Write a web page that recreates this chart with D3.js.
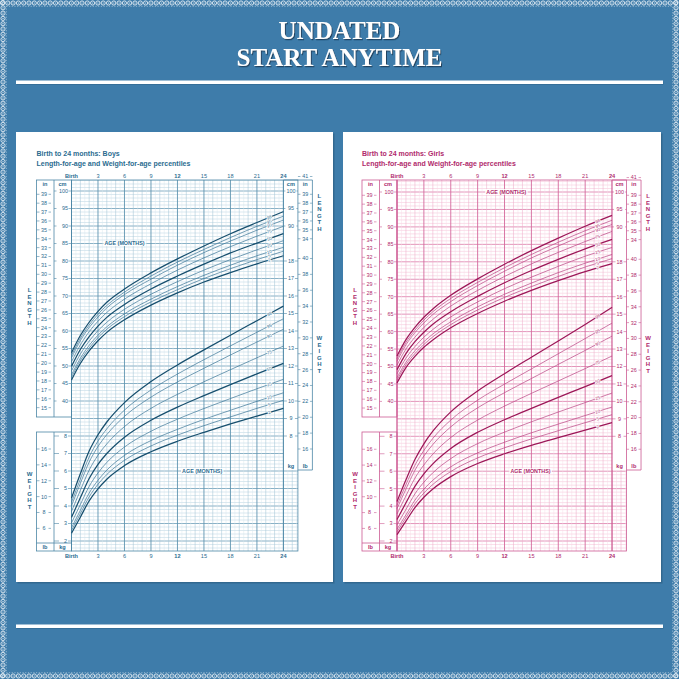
<!DOCTYPE html>
<html><head><meta charset="utf-8">
<script src="https://cdn.jsdelivr.net/npm/d3@7"></script>
<style>html,body{margin:0;padding:0;background:#3e7caa;} svg{display:block}</style>
</head><body>
<svg id="c" width="679" height="679"></svg>
<script>
// ---------- DATA ----------
const months = [0,1,2,3,4,6,9,12,15,18,21,24];
const percentiles = [2,5,10,25,50,75,90,95,98];
const ageTicks = [0,3,6,9,12,15,18,21,24];
const ageTickLabels = ["Birth","3","6","9","12","15","18","21","24"];
const cmTicksLeft = [100,95,90,85,80,75,70,65,60,55,50,45,40];
const inTicksLeft = [39,38,37,36,35,34,33,32,31,30,29,28,27,26,25,24,23,22,21,20,19,18,17,16,15];
const kgTicksLeft = [8,7,6,5,4,3,2];
const lbTicksLeft = [16,14,12,10,8,6];
const cmTicksRight = [100,95,90];
const inTicksRight = [41,39,38,37,36,35,34];
const kgTicksRight = [18,17,16,15,14,13,12,11,10,9,8];
const lbTicksRight = [40,38,36,34,32,30,28,26,24,22,20,18,16];

const boysLength = [
 [46.0,50.7,54.3,57.2,59.6,63.2,67.4,70.9,74.0,76.7,79.2,81.5],
 [46.8,51.5,55.1,58.1,60.5,64.1,68.3,71.8,75.0,77.8,80.4,82.8],
 [47.5,52.2,55.9,58.8,61.2,64.9,69.1,72.7,75.9,78.8,81.5,83.9],
 [48.6,53.4,57.1,60.1,62.5,66.2,70.5,74.1,77.4,80.4,83.2,85.8],
 [49.9,54.7,58.4,61.4,63.9,67.6,72.0,75.7,79.1,82.3,85.1,87.8],
 [51.2,56.0,59.8,62.8,65.3,69.1,73.5,77.4,80.9,84.1,87.1,89.9],
 [52.3,57.2,61.0,64.0,66.6,70.4,74.8,78.8,82.4,85.7,88.8,91.7],
 [53.0,57.9,61.7,64.8,67.3,71.1,75.7,79.7,83.3,86.7,89.9,92.8],
 [53.8,58.7,62.5,65.6,68.2,72.0,76.6,80.6,84.3,87.8,91.0,94.1]
];
const boysWeight = [
 [2.44,3.36,4.29,4.98,5.53,6.31,7.10,7.70,8.21,8.69,9.14,9.58],
 [2.60,3.56,4.52,5.24,5.80,6.61,7.43,8.05,8.59,9.09,9.58,10.04],
 [2.76,3.75,4.74,5.47,6.05,6.89,7.74,8.38,8.95,9.47,9.98,10.47],
 [3.03,4.08,5.12,5.89,6.49,7.37,8.27,8.96,9.57,10.14,10.70,11.24],
 [3.35,4.47,5.57,6.38,7.00,7.93,8.90,9.65,10.31,10.94,11.55,12.15],
 [3.69,4.89,6.05,6.90,7.55,8.54,9.58,10.38,11.10,11.79,12.47,13.14],
 [4.01,5.29,6.51,7.40,8.08,9.12,10.22,11.09,11.87,12.63,13.37,14.10],
 [4.21,5.54,6.80,7.71,8.41,9.48,10.63,11.54,12.36,13.15,13.93,14.70],
 [4.45,5.84,7.14,8.07,8.80,9.91,11.11,12.06,12.92,13.76,14.59,15.42]
];
const girlsLength = [
 [45.3,49.7,52.9,55.5,57.6,61.1,65.2,68.7,71.8,74.6,77.2,79.5],
 [46.1,50.5,53.7,56.3,58.5,62.0,66.2,69.8,72.9,75.8,78.5,80.9],
 [46.8,51.2,54.5,57.1,59.3,62.8,67.1,70.7,73.9,76.9,79.6,82.1],
 [47.9,52.4,55.7,58.4,60.6,64.2,68.5,72.3,75.6,78.7,81.6,84.1],
 [49.1,53.7,57.1,59.8,62.1,65.7,70.1,74.0,77.5,80.7,83.7,86.4],
 [50.4,55.0,58.4,61.2,63.5,67.3,71.8,75.8,79.4,82.7,85.8,88.7],
 [51.5,56.2,59.7,62.5,64.9,68.6,73.2,77.3,81.1,84.5,87.8,90.7],
 [52.2,56.9,60.4,63.3,65.7,69.5,74.1,78.3,82.1,85.6,88.9,91.9],
 [53.0,57.7,61.2,64.1,66.5,70.4,75.1,79.3,83.2,86.8,90.2,93.3]
];
const girlsWeight = [
 [2.37,3.14,3.91,4.51,4.98,5.69,6.44,7.00,7.48,7.92,8.35,8.78],
 [2.53,3.33,4.13,4.75,5.24,5.98,6.76,7.34,7.85,8.32,8.78,9.24],
 [2.68,3.50,4.34,4.97,5.48,6.25,7.05,7.66,8.20,8.70,9.19,9.68],
 [2.93,3.81,4.70,5.37,5.91,6.72,7.58,8.24,8.83,9.39,9.93,10.48],
 [3.23,4.19,5.13,5.85,6.42,7.30,8.23,8.95,9.60,10.23,10.85,11.48],
 [3.55,4.59,5.60,6.36,6.98,7.93,8.93,9.73,10.46,11.17,11.88,12.60],
 [3.85,4.98,6.05,6.87,7.53,8.54,9.63,10.50,11.31,12.12,12.92,13.74],
 [4.04,5.23,6.34,7.19,7.88,8.93,10.07,10.99,11.86,12.73,13.60,14.49],
 [4.26,5.51,6.67,7.57,8.29,9.40,10.60,11.59,12.53,13.46,14.41,15.39]
];

// ---------- PAGE ----------
const svg = d3.select("#c");
const W = 679, H = 679;
const defs = svg.append("defs");
const f = defs.append("filter").attr("id","ts").attr("x","-10%").attr("y","-20%").attr("width","130%").attr("height","150%");
f.append("feDropShadow").attr("dx",1).attr("dy",1.2).attr("stdDeviation",0.6).attr("flood-color","#12344d").attr("flood-opacity",0.8);

svg.append("rect").attr("width",W).attr("height",H).attr("fill","#3e7caa");

// lace border
const lace = svg.append("g");
const ls = 5.3;
d3.range(2.5, W, ls).forEach(p => {
  [[p,3],[p,H-3],[3,p],[W-3,p]].forEach(([cx,cy]) => {
    lace.append("circle").attr("cx",cx).attr("cy",cy).attr("r",2.1)
      .attr("fill","none").attr("stroke","#e4edf4").attr("stroke-width",0.9);
    lace.append("circle").attr("cx",cx).attr("cy",cy).attr("r",0.6).attr("fill","#e4edf4");
  });
});
lace.append("rect").attr("x",6.3).attr("y",6.3).attr("width",W-12.6).attr("height",H-12.6)
  .attr("fill","none").attr("stroke","#c9dbe8").attr("stroke-width",0.6).attr("stroke-dasharray","1.2 1.5");

// title
const titleFont = "bold 25px 'Liberation Serif','Times New Roman',serif";
svg.append("text").attr("x",339.5).attr("y",39).attr("text-anchor","middle").style("font",titleFont)
  .attr("fill","#ffffff").attr("filter","url(#ts)").text("UNDATED");
svg.append("text").attr("x",339.5).attr("y",66).attr("text-anchor","middle").style("font",titleFont)
  .attr("fill","#ffffff").attr("filter","url(#ts)").text("START ANYTIME");

// white rules
[80.5, 624.5].forEach(y => {
  svg.append("rect").attr("x",16.5).attr("y",y+1).attr("width",647).attr("height",3.5).attr("fill","#2b5f86").attr("opacity",0.5);
  svg.append("rect").attr("x",16).attr("y",y).attr("width",647).attr("height",3.5).attr("fill","#ffffff");
});

// ---------- PANELS ----------
function drawPanel(cfg) {
  const g = svg.append("g");
  g.append("rect").attr("x",cfg.px+1.5).attr("y",133.5).attr("width",cfg.pw).attr("height",450).attr("fill","#23506f").attr("opacity",0.45);
  g.append("rect").attr("x",cfg.px).attr("y",132).attr("width",cfg.pw).attr("height",450).attr("fill","#ffffff");

  const x = d3.scaleLinear().domain([0,24]).range([cfg.x0, cfg.x0 + 24*cfg.mw]);
  const yCm = d3.scaleLinear().domain([0,100]).range([541, 541 - 100*cfg.k]);
  const yKg = d3.scaleLinear().domain([2,22]).range([541, 541 - 100*cfg.k]);
  const yIn = v => yCm(v*2.54);
  const yLb = v => yKg(v*0.45359237);
  const top = 180, bot = 551;
  const x24 = x(24), xr = x24 + 14.5, xrr = x24 + 29;
  const xl0 = cfg.x0 - 35, xl1 = cfg.x0 - 17.5;
  const font = "'Liberation Sans',Arial,sans-serif";

  // titles
  g.append("text").attr("x",xl0).attr("y",156).attr("fill",cfg.text)
    .style("font",`bold 7px ${font}`).text(cfg.title);
  g.append("text").attr("x",xl0).attr("y",166).attr("fill",cfg.text)
    .style("font",`bold 7px ${font}`).text("Length-for-age and Weight-for-age percentiles");

  // grid
  const grid = g.append("g");
  d3.range(-2, 103.5, 1).forEach(c => {
    const major = c % 5 === 0;
    grid.append("line").attr("x1",cfg.x0).attr("x2",xr).attr("y1",yCm(c)).attr("y2",yCm(c))
      .attr("stroke", major ? cfg.gridMajor : cfg.gridFine).attr("stroke-width", major ? 0.8 : 0.5);
  });
  d3.range(0, 25.6, 0.5).forEach(m => {
    let col = cfg.gridHalf, w = 0.45;
    if (m % 3 === 0) { col = cfg.gridMajorV; w = 0.9; }
    else if (m % 1 === 0) { col = cfg.gridFineV; w = 0.55; }
    grid.append("line").attr("x1",x(m)).attr("x2",x(m)).attr("y1",top).attr("y2",bot)
      .attr("stroke",col).attr("stroke-width",w);
  });

  // right label columns (white)
  g.append("rect").attr("x",x24+0.5).attr("y",top).attr("width",xrr-x24).attr("height",470-top).attr("fill","#fff");

  // frames
  const fr = g.append("g").attr("stroke",cfg.frame).attr("stroke-width",0.8).attr("fill","none");
  fr.append("rect").attr("x",cfg.x0).attr("y",top).attr("width",xr-cfg.x0).attr("height",bot-top);
  fr.append("line").attr("x1",x24).attr("x2",x24).attr("y1",top).attr("y2",bot);
  fr.append("line").attr("x1",xrr).attr("x2",xrr).attr("y1",top).attr("y2",470);
  fr.append("line").attr("x1",x24).attr("x2",xrr).attr("y1",top).attr("y2",top);
  fr.append("line").attr("x1",xr).attr("x2",xrr).attr("y1",470).attr("y2",470);
  fr.append("rect").attr("x",xl0).attr("y",top).attr("width",35).attr("height",417-top);
  fr.append("line").attr("x1",xl1).attr("x2",xl1).attr("y1",top).attr("y2",417);
  fr.append("rect").attr("x",xl0).attr("y",432).attr("width",35).attr("height",bot-432);
  fr.append("line").attr("x1",xl1).attr("x2",xl1).attr("y1",432).attr("y2",bot);
  fr.append("line").attr("x1",xl0).attr("x2",cfg.x0).attr("y1",543).attr("y2",543);

  // age ticks top & bottom
  ageTicks.forEach((m,i) => {
    const lab = ageTickLabels[i];
    [177.5, 558].forEach(yy => {
      g.append("text").attr("x",x(m)).attr("y",yy).attr("text-anchor","middle").attr("fill",cfg.text)
        .style("font", `${i===0 || m===12 || m===24 ? "bold " : ""}5.6px ${font}`).text(lab);
    });
  });

  const tickG = g.append("g");
  function tickLabel(xc, y, txt, xa, xb, anchor) {
    tickG.append("line").attr("x1",xa[0]).attr("x2",xa[1]).attr("y1",y).attr("y2",y).attr("stroke",cfg.frame).attr("stroke-width",0.6);
    tickG.append("line").attr("x1",xb[0]).attr("x2",xb[1]).attr("y1",y).attr("y2",y).attr("stroke",cfg.frame).attr("stroke-width",0.6);
    tickG.append("text").attr("x",xc).attr("y",y+1.9).attr("text-anchor",anchor||"middle").attr("fill",cfg.text)
      .style("font",`5.4px ${font}`).text(txt);
  }
  inTicksLeft.forEach(v => tickLabel(xl0+7.5, yIn(v), v, [xl0, xl0+3], [xl0+12, xl0+14.5]));
  cmTicksLeft.forEach(v => tickLabel(cfg.x0-3.5, yCm(v), v, [xl1, xl1+2.5], [cfg.x0-3, cfg.x0], "end"));
  lbTicksLeft.forEach(v => tickLabel(xl0+7.5, yLb(v), v, [xl0, xl0+3], [xl0+12, xl0+14.5]));
  kgTicksLeft.forEach(v => tickLabel(cfg.x0-6, yKg(v), v, [xl1, xl1+5], [cfg.x0-3.5, cfg.x0]));
  cmTicksRight.forEach(v => tickLabel(x24+7.5, yCm(v), v, [x24, x24+2], [xr-1.5, xr]));
  kgTicksRight.forEach(v => tickLabel(x24+7.5, yKg(v), v, [x24, x24+3.5], [xr-3, xr]));
  inTicksRight.forEach(v => tickLabel(xr+7.3, yIn(v), v, [xr, xr+2.5], [xrr-2.5, xrr]));
  lbTicksRight.forEach(v => tickLabel(xr+7.3, yLb(v), v, [xr, xr+2.5], [xrr-2.5, xrr]));

  // unit headers
  const hdr = (xx, yy, t) => g.append("text").attr("x",xx).attr("y",yy).attr("text-anchor","middle")
      .attr("fill",cfg.text).style("font",`bold 5.6px ${font}`).text(t);
  hdr(xl0+8.5, 185.5, "in"); hdr(xl1+8.5, 185.5, "cm");
  hdr(xl0+8.5, 549, "lb"); hdr(xl1+8.5, 549, "kg");
  hdr(x24+7.5, 185.5, "cm"); hdr(xr+7.3, 185.5, "in");
  hdr(x24+7.5, 468, "kg"); hdr(xr+7.3, 468, "lb");

  // vertical words
  const vword = (xx, y0, word) => word.split("").forEach((ch,i) =>
    g.append("text").attr("x",xx).attr("y",y0 + i*6.6).attr("text-anchor","middle").attr("fill",cfg.text)
      .style("font",`bold 6px ${font}`).text(ch));
  vword(xl0-7, 292, "LENGTH");
  vword(xl0-7, 476, "WEIGHT");
  vword(xrr+7, 198, "LENGTH");
  vword(xrr+7, 340, "WEIGHT");

  // age (months) labels
  const ageLab = (mx, yy) => {
    const t = g.append("text").attr("x",x(mx)).attr("y",yy+1.9).attr("text-anchor","middle").attr("fill",cfg.text)
      .style("font",`bold 5.4px ${font}`).text("AGE (MONTHS)");
    const bb = t.node().getBBox();
    g.insert("rect", () => t.node()).attr("x",bb.x-1).attr("y",bb.y+0.3).attr("width",bb.width+2).attr("height",bb.height-0.6).attr("fill","#fff");
  };
  ageLab(cfg.ageTop[0], yCm(cfg.ageTop[1]));
  ageLab(cfg.ageBot[0], yKg(cfg.ageBot[1]));

  // curves
  const curves = g.append("g").attr("fill","none");
  const drawSet = (data, yS) => {
    data.forEach((row, pi) => {
      const thick = [2,50,98].includes(percentiles[pi]);
      const line = d3.line().curve(d3.curveMonotoneX).x((d,i) => x(months[i])).y(d => yS(d));
      curves.append("path").attr("d", line(row)).attr("stroke", thick ? cfg.curveDark : cfg.curveLight)
        .attr("stroke-width", thick ? 1.25 : 0.7);
    });
    data.forEach((row, pi) => {
      const n = months.length;
      const m = 22.4, t = (m - months[n-2]) / (months[n-1] - months[n-2]);
      const v = row[n-2] + t*(row[n-1]-row[n-2]);
      const ang = Math.atan2(yS(row[n-1]) - yS(row[n-2]), x(months[n-1]) - x(months[n-2])) * 180 / Math.PI;
      g.append("text").attr("transform",`translate(${x(m)},${yS(v)}) rotate(${ang})`).attr("y",1.5)
        .attr("text-anchor","middle").attr("fill",cfg.text).attr("stroke","#fff").attr("stroke-width",1.4)
        .attr("paint-order","stroke").style("font",`4.4px ${font}`).text(percentiles[pi]);
    });
  };
  drawSet(cfg.len, yCm);
  drawSet(cfg.wt, yKg);
}

drawPanel({
  px:16, pw:317, x0:71.5, mw:8.83, k:3.5,
  title:"Birth to 24 months: Boys",
  text:"#2b6c90", frame:"#4d87a6",
  gridFine:"#b7d2e0", gridMajor:"#6b9db7", gridHalf:"#d6e6ee", gridFineV:"#a6c6d7", gridMajorV:"#5f94b0",
  curveDark:"#174f6e", curveLight:"#3b7596",
  ageTop:[6, 85], ageBot:[14.8, 6],
  len: boysLength, wt: boysWeight
});
drawPanel({
  px:343, pw:318, x0:397, mw:8.96, k:3.49,
  title:"Birth to 24 months: Girls",
  text:"#b02a6c", frame:"#cc5b93",
  gridFine:"#f4bfd5", gridMajor:"#dc7aa8", gridHalf:"#f8d9e6", gridFineV:"#efaecb", gridMajorV:"#d4689c",
  curveDark:"#9c1758", curveLight:"#b94482",
  ageTop:[12.2, 100], ageBot:[14.9, 6],
  len: girlsLength, wt: girlsWeight
});
</script>
</body></html>
